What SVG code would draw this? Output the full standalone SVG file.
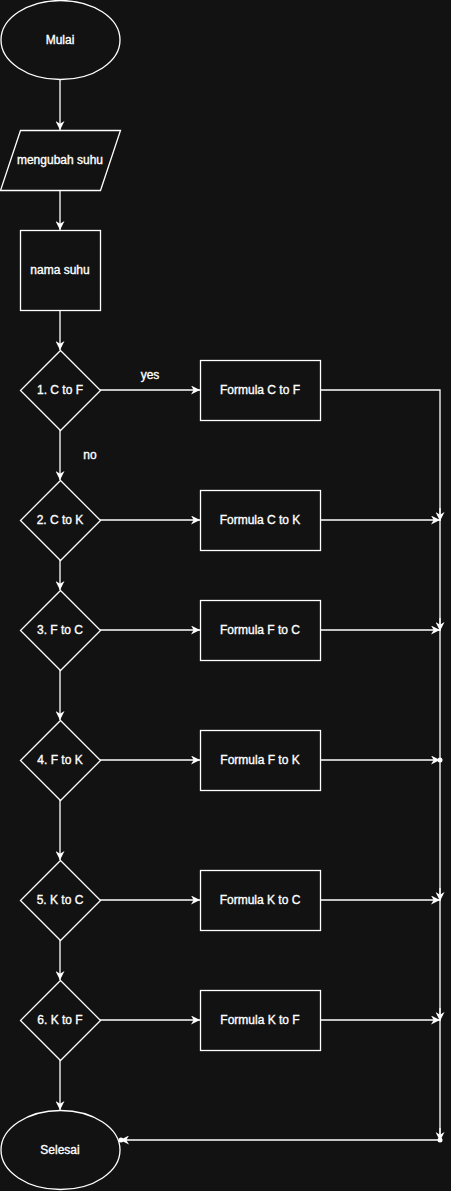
<svg xmlns="http://www.w3.org/2000/svg" width="451" height="1191" viewBox="0 0 451 1191">
<defs>
<marker id="arr" viewBox="0 0 10 10" refX="10" refY="5" markerWidth="9" markerHeight="9" markerUnits="userSpaceOnUse" orient="auto">
<path d="M0,0 L10,5 L0,10 L3,5 Z" fill="#ffffff"/>
</marker>
</defs>
<style>
.n{fill:#121212;stroke:#ffffff;stroke-width:1.3}
.t{font-family:"Liberation Sans",Arial,sans-serif;font-size:12px;fill:#ffffff;stroke:#ffffff;stroke-width:0.35;text-anchor:middle;dominant-baseline:central}
.e{fill:none;stroke:#ffffff;stroke-width:1.3}
.a{marker-end:url(#arr)}
</style>
<rect width="451" height="1191" fill="#121212"/>
<g id="connectors">
<path class="e a" d="M60,80 V130"/>
<path class="e a" d="M60,190 V230"/>
<path class="e a" d="M60,310 V350"/>
<path class="e a" d="M60,430 V480"/>
<path class="e a" d="M60,560 V590"/>
<path class="e a" d="M60,670 V720"/>
<path class="e a" d="M60,800 V860"/>
<path class="e a" d="M60,940 V980"/>
<path class="e a" d="M60,1060 V1110"/>
<path class="e a" d="M100,390 H200"/>
<path class="e a" d="M100,520 H200"/>
<path class="e a" d="M100,630 H200"/>
<path class="e a" d="M100,760 H200"/>
<path class="e a" d="M100,900 H200"/>
<path class="e a" d="M100,1020 H200"/>
<path class="e a" d="M320,390 H440 V1140 H120"/>
<path class="e a" d="M320,520 H440"/>
<path class="e a" d="M320,630 H440"/>
<path class="e a" d="M320,760 H440"/>
<path class="e a" d="M320,900 H440"/>
<path class="e a" d="M320,1020 H440"/>
<path class="e a" d="M440,508 V521"/>
<path class="e a" d="M440,618 V631"/>
<path class="e a" d="M440,888 V901"/>
<path class="e a" d="M440,1008 V1021"/>
<path class="e a" d="M440,1128 V1141"/>
<circle cx="440" cy="760" r="2.5" fill="#ffffff"/>
<circle cx="440" cy="1140" r="2.5" fill="#ffffff"/>
<circle cx="121" cy="1140" r="2.5" fill="#ffffff"/>
<text class="t" x="150" y="375">yes</text>
<text class="t" x="90" y="455">no</text>
</g>
<g id="mulai"><ellipse class="n" cx="60.5" cy="40" rx="59.5" ry="39.5"/><text class="t" x="60" y="40">Mulai</text></g>
<g id="mengubah"><path class="n" d="M20.5,130.5 H120.5 L100.5,190.5 H0.5 Z"/><text class="t" x="60" y="160">mengubah suhu</text></g>
<g id="nama"><rect class="n" x="20.5" y="230.5" width="80" height="80"/><text class="t" x="60" y="270">nama suhu</text></g>
<g id="d1"><path class="n" d="M60.5,350.5 L100.5,390.5 L60.5,430.5 L20.5,390.5 Z"/><text class="t" x="60" y="390">1. C to F</text></g>
<g id="f1"><rect class="n" x="200.5" y="360.5" width="120" height="60"/><text class="t" x="260" y="390">Formula C to F</text></g>
<g id="d2"><path class="n" d="M60.5,480.5 L100.5,520.5 L60.5,560.5 L20.5,520.5 Z"/><text class="t" x="60" y="520">2. C to K</text></g>
<g id="f2"><rect class="n" x="200.5" y="490.5" width="120" height="60"/><text class="t" x="260" y="520">Formula C to K</text></g>
<g id="d3"><path class="n" d="M60.5,590.5 L100.5,630.5 L60.5,670.5 L20.5,630.5 Z"/><text class="t" x="60" y="630">3. F to C</text></g>
<g id="f3"><rect class="n" x="200.5" y="600.5" width="120" height="60"/><text class="t" x="260" y="630">Formula F to C</text></g>
<g id="d4"><path class="n" d="M60.5,720.5 L100.5,760.5 L60.5,800.5 L20.5,760.5 Z"/><text class="t" x="60" y="760">4. F to K</text></g>
<g id="f4"><rect class="n" x="200.5" y="730.5" width="120" height="60"/><text class="t" x="260" y="760">Formula F to K</text></g>
<g id="d5"><path class="n" d="M60.5,860.5 L100.5,900.5 L60.5,940.5 L20.5,900.5 Z"/><text class="t" x="60" y="900">5. K to C</text></g>
<g id="f5"><rect class="n" x="200.5" y="870.5" width="120" height="60"/><text class="t" x="260" y="900">Formula K to C</text></g>
<g id="d6"><path class="n" d="M60.5,980.5 L100.5,1020.5 L60.5,1060.5 L20.5,1020.5 Z"/><text class="t" x="60" y="1020">6. K to F</text></g>
<g id="f6"><rect class="n" x="200.5" y="990.5" width="120" height="60"/><text class="t" x="260" y="1020">Formula K to F</text></g>
<g id="selesai"><ellipse class="n" cx="60.5" cy="1150" rx="59.5" ry="39.5"/><text class="t" x="60" y="1150">Selesai</text></g>
</svg>
